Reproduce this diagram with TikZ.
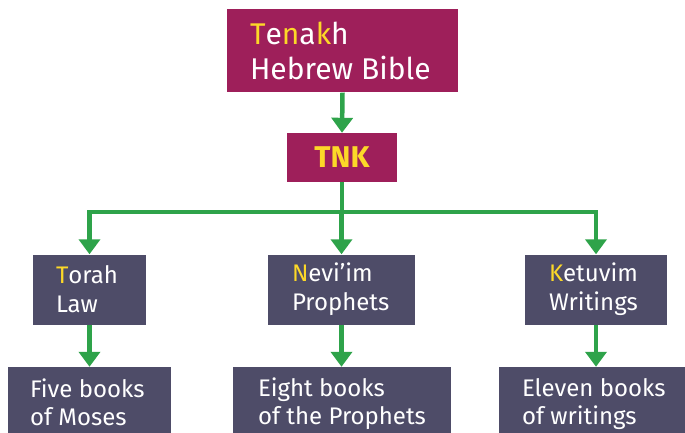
\documentclass[tikz,border=0pt]{standalone}
\usepackage{fontspec}
\setmainfont{Fira Sans}
\usetikzlibrary{arrows.meta}
\definecolor{magbox}{HTML}{9E1F5A}
\definecolor{slatebox}{HTML}{4E4C68}
\definecolor{arrgreen}{HTML}{2EA34A}
\definecolor{hiyel}{HTML}{FCD828}
\newcommand{\hy}[1]{\textcolor{hiyel}{#1}}
\tikzset{
  x=1pt,y=-1pt,
  box/.style={rectangle, inner sep=0pt},
  magb/.style={box, fill=magbox},
  slab/.style={box, fill=slatebox},
  txt/.style={text=white, align=left, inner sep=0pt, anchor=west},
  toptxt/.style={txt, font=\fontsize{30}{35}\selectfont},
  tnktxt/.style={txt, anchor=center, font=\fontsize{30}{30}\selectfont\bfseries},
  midtxt/.style={txt, font=\fontsize{24}{29}\selectfont},
  lowtxt/.style={txt, font=\fontsize{24}{28}\selectfont},
  conn/.style={draw=arrgreen, line width=4.5pt},
  arr/.style={conn, -{Triangle[length=15pt,width=21pt]}}
}
\begin{document}
\begin{tikzpicture}
\useasboundingbox (0,0) rectangle (685,433);
\clip (0,0) rectangle (685,433);
% boxes
\node[magb, minimum width=231, minimum height=83] (tenakh) at (342.5,51) {};
\node[magb, minimum width=110, minimum height=49] (tnk) at (342,157.5) {};
\node[slab, minimum width=113, minimum height=70] (torah) at (89.5,289.5) {};
\node[slab, minimum width=147, minimum height=70] (neviim) at (341.5,289.5) {};
\node[slab, minimum width=142, minimum height=70] (ketuvim) at (596,289.5) {};
\node[slab, minimum width=163, minimum height=72] (five) at (89.5,403) {};
\node[slab, minimum width=218, minimum height=72] (eight) at (342,403) {};
\node[slab, minimum width=192, minimum height=72] (eleven) at (595,403) {};
% texts
\node[toptxt] (tenakhT) at ([xshift=23]tenakh.west) {\hy{T}e\hy{n}a\hy{k}h\\Hebrew Bible};
\node[tnktxt] (tnkT) at (tnk.center) {\hy{TNK}};
\node[midtxt] (torahT) at ([xshift=23]torah.west) {\hy{T}orah\\Law};
\node[midtxt] (neviimT) at ([xshift=24]neviim.west) {\hy{N}evi’im\\Prophets};
\node[midtxt] (ketuvimT) at ([xshift=24]ketuvim.west) {\hy{K}etuvim\\Writings};
\node[lowtxt] (fiveT) at ([xshift=22,yshift=1]five.west) {Five books\\of Moses};
\node[lowtxt] (eightT) at ([xshift=25,yshift=-1]eight.west) {Eight books\\of the Prophets};
\node[lowtxt] (elevenT) at ([xshift=23,yshift=-1]eleven.west) {Eleven books\\of writings};
% connectors
\coordinate (junc) at (342,212);
\coordinate (jl) at (89.5,212);
\coordinate (jr) at (596,212);
\draw[arr] (tenakh.south) -- (tnk.north);
\draw[conn] (tnk.south) -- (junc);
\draw[conn] ([xshift=-2.25pt]jl) -- ([xshift=2.25pt]jr);
\draw[arr] (jl) -- (torah.north);
\draw[arr] (junc -| neviim.north) -- (neviim.north);
\draw[arr] (jr) -- (ketuvim.north);
\draw[arr] (torah.south) -- (five.north);
\draw[arr] (neviim.south) -- (neviim.south |- eight.north);
\draw[arr] (ketuvim.south) -- (ketuvim.south |- eleven.north);
\end{tikzpicture}
\end{document}
